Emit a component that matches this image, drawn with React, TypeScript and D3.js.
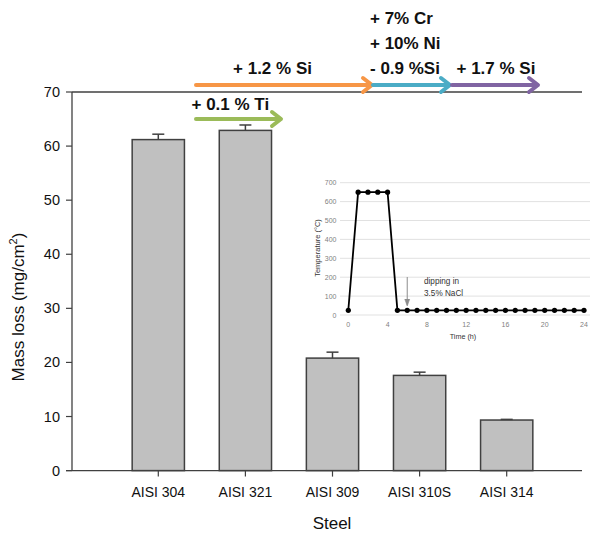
import * as d3 from 'd3';

// main chart data
const steels = ['AISI 304', 'AISI 321', 'AISI 309', 'AISI 310S', 'AISI 314'];
const massLoss = [61.2, 62.9, 20.8, 17.6, 9.35];
const massErr = [1.0, 1.0, 1.1, 0.6, 0.12];
const yTicks = [0, 10, 20, 30, 40, 50, 60, 70];

// inset: thermal cycle
const cycleTime = [0, 1, 2, 3, 4, 5, 6, 7, 8, 9, 10, 11, 12, 13, 14, 15, 16, 17, 18, 19, 20, 21, 22, 23, 24];
const cycleTemp = [25, 650, 650, 650, 650, 25, 25, 25, 25, 25, 25, 25, 25, 25, 25, 25, 25, 25, 25, 25, 25, 25, 25, 25, 25];
const insetYTicks = [0, 100, 200, 300, 400, 500, 600, 700];
const insetXTicks = [0, 4, 8, 12, 16, 20, 24];

// composition arrows
const arrowLabels = ['+ 1.2 % Si', '+ 0.1 % Ti', '- 0.9 %Si', '+ 1.7 % Si'];
const arrowColors = ['#f79646', '#9bbb59', '#4bacc6', '#8064a2'];

const W = 603;
const H = 534;
const AXIS = '#404040';
const FONT = 'Arial, "Liberation Sans", sans-serif';

function Arrow({ x1, x2, y, color }: { x1: number; x2: number; y: number; color: string }) {
  return (
    <g stroke={color} strokeWidth={4} fill="none" strokeLinecap="round" strokeLinejoin="round">
      <line x1={x1} x2={x2 - 2} y1={y} y2={y} />
      <path d={`M${x2 - 9},${y - 7} L${x2},${y} L${x2 - 9},${y + 7}`} />
    </g>
  );
}

export default function App() {
  const x = d3.scaleBand<string>().domain(steels).range([114.75, 550.25]).paddingInner(0.4).paddingOuter(0.2);
  const y = d3.scaleLinear().domain([0, 70]).range([470.6, 92]);
  const left = 72;
  const right = 582;

  // inset scales
  const ix = d3.scaleLinear().domain([0, 24]).range([348.3, 584]);
  const iy = d3.scaleLinear().domain([0, 700]).range([315, 182.7]);
  const line = d3.line<number>().x((_, i) => ix(cycleTime[i])).y(d => iy(d));

  return (
    <svg width={W} height={H} style={{ position: 'absolute', left: 0, top: 0, background: '#fff' }} fontFamily={FONT}>
      {/* frame */}
      <line x1={left} x2={right} y1={y(70)} y2={y(70)} stroke={AXIS} strokeWidth={1.3} />
      <line x1={left} x2={left} y1={y(70)} y2={y(0)} stroke={AXIS} strokeWidth={1.3} />
      <line x1={66} x2={right} y1={y(0)} y2={y(0)} stroke={AXIS} strokeWidth={1.3} />

      {/* y ticks */}
      {yTicks.map(t => (
        <g key={t}>
          <line x1={66} x2={left} y1={y(t)} y2={y(t)} stroke={AXIS} strokeWidth={1.2} />
          <text x={60} y={y(t) + 5} textAnchor="end" fontSize={14.5} fill="#111">{t}</text>
        </g>
      ))}
      <text transform={`translate(24,307) rotate(-90)`} textAnchor="middle" fontSize={17} fill="#111">
        Mass loss (mg/cm<tspan dy={-7} fontSize={11}>2</tspan><tspan dy={7}>)</tspan>
      </text>

      {/* bars */}
      {steels.map((s, i) => {
        const bx = x(s)!;
        const bw = x.bandwidth();
        const cx = bx + bw / 2;
        return (
          <g key={s}>
            <rect x={bx} y={y(massLoss[i])} width={bw} height={y(0) - y(massLoss[i])} fill="#c0c0c0" stroke={AXIS} strokeWidth={1.5} />
            <line x1={cx} x2={cx} y1={y(massLoss[i])} y2={y(massLoss[i] + massErr[i])} stroke={AXIS} strokeWidth={1.5} />
            <line x1={cx - 6} x2={cx + 6} y1={y(massLoss[i] + massErr[i])} y2={y(massLoss[i] + massErr[i])} stroke={AXIS} strokeWidth={1.5} />
            <line x1={cx} x2={cx} y1={y(0)} y2={y(0) + 6} stroke={AXIS} strokeWidth={1.2} />
            <text x={cx} y={496.7} textAnchor="middle" fontSize={14} fill="#111">{s}</text>
          </g>
        );
      })}
      <text x={332} y={529} textAnchor="middle" fontSize={17} fill="#111">Steel</text>

      {/* arrows */}
      <Arrow x1={196} x2={372} y={85} color={arrowColors[0]} />
      <Arrow x1={196} x2={281} y={119} color={arrowColors[1]} />
      <Arrow x1={373} x2={450} y={85} color={arrowColors[2]} />
      <Arrow x1={452} x2={538} y={85} color={arrowColors[3]} />
      <g fontFamily='"Liberation Sans", Arial, sans-serif' fontWeight="bold" fontSize={17} fill="#111">
        <text x={272.5} y={73.5} textAnchor="middle">{arrowLabels[0]}</text>
        <text x={191.5} y={110} textAnchor="start">{arrowLabels[1]}</text>
        <text x={370} y={23.5}>+ 7% Cr</text>
        <text x={370} y={48.5}>+ 10% Ni</text>
        <text x={370} y={73.5}>{arrowLabels[2]}</text>
        <text x={456.5} y={73.5}>{arrowLabels[3]}</text>
      </g>

      {/* inset */}
      <g fontFamily={FONT}>
        {insetYTicks.map(t => (
          <g key={t}>
            <line x1={340} x2={590} y1={iy(t)} y2={iy(t)} stroke="#d9d9d9" strokeWidth={0.8} />
            <text x={336.5} y={iy(t) + 2.5} textAnchor="end" fontSize={7} fill="#7f7f7f">{t}</text>
          </g>
        ))}
        {insetXTicks.map(t => (
          <text key={t} x={ix(t)} y={327} textAnchor="middle" fontSize={7} fill="#7f7f7f">{t}</text>
        ))}
        <text x={463} y={339} textAnchor="middle" fontSize={7.2} fill="#333">Time (h)</text>
        <text transform="translate(320,248) rotate(-90)" textAnchor="middle" fontSize={7.5} fill="#333">Temperature (°C)</text>
        <path d={line(cycleTemp) ?? ''} fill="none" stroke="#000" strokeWidth={1.8} />
        {cycleTemp.map((v, i) => (
          <circle key={i} cx={ix(cycleTime[i])} cy={iy(v)} r={2.6} fill="#000" />
        ))}
        <line x1={ix(6)} x2={ix(6)} y1={277} y2={305} stroke="#8c8c8c" strokeWidth={1} />
        <path d={`M${ix(6) - 2.5},${299} L${ix(6)},${306} L${ix(6) + 2.5},${299}`} fill="#8c8c8c" stroke="#8c8c8c" strokeWidth={0.6} />
        <text x={424} y={284} fontSize={8.2} fill="#333">dipping in</text>
        <text x={424} y={295.5} fontSize={8.2} fill="#333">3.5% NaCl</text>
      </g>
    </svg>
  );
}
